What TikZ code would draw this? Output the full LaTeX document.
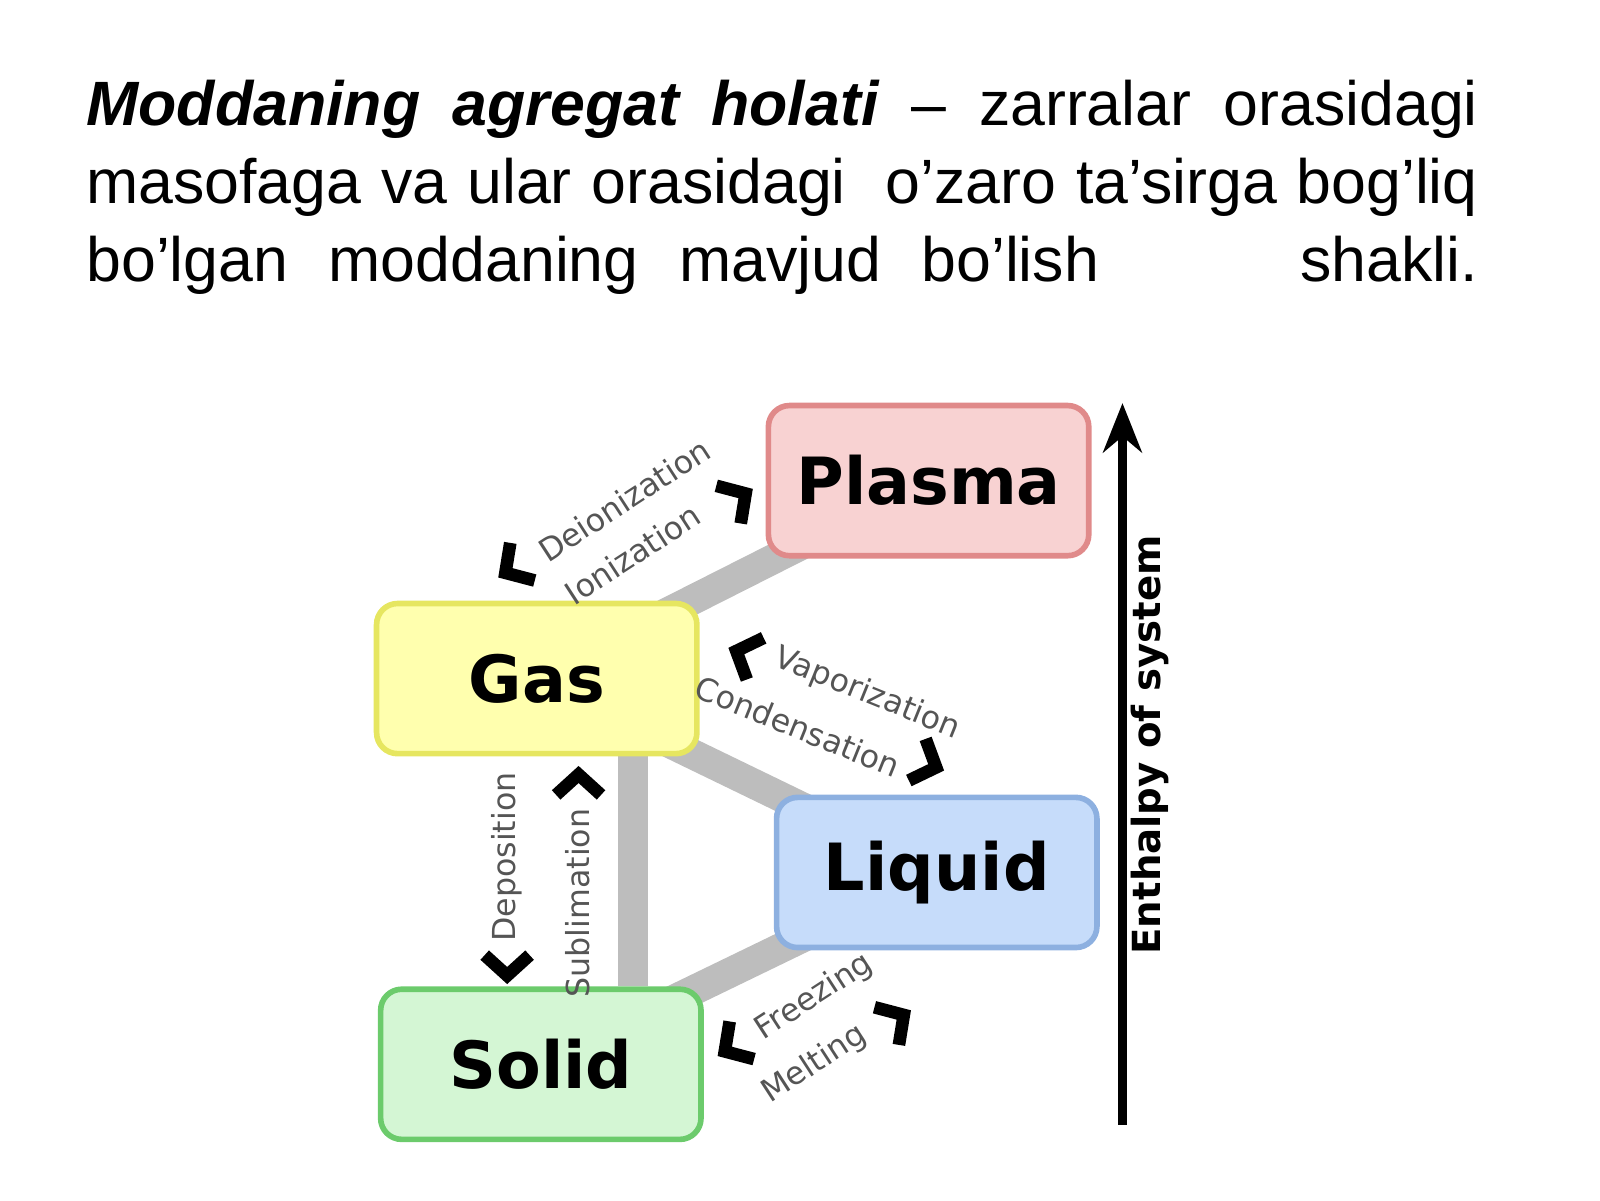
\documentclass[tikz,border=0pt]{standalone}
\usepackage{fontspec}
\setmainfont{Liberation Sans}
\newfontfamily\dejavu{DejaVu Sans}
\usetikzlibrary{backgrounds,arrows.meta,calc}
\definecolor{plasmafill}{HTML}{F8D2D2}\definecolor{plasmaline}{HTML}{E08A8A}
\definecolor{gasfill}{HTML}{FFFFAE}\definecolor{gasline}{HTML}{E6E660}
\definecolor{liquidfill}{HTML}{C6DCFA}\definecolor{liquidline}{HTML}{8DB0E0}
\definecolor{solidfill}{HTML}{D4F6D4}\definecolor{solidline}{HTML}{6CCB6C}
\definecolor{bargray}{HTML}{BDBDBD}\definecolor{labelgray}{HTML}{555555}
\tikzset{
  state/.style = {draw=#1line,fill=#1fill,line width=1.6pt,rounded corners=6pt,
    minimum width=3.2cm,minimum height=1.5cm,font=\dejavu\bfseries\fontsize{18.5}{20}\selectfont},
  bar/.style = {bargray,line width=0.3cm},
  change/.style = {labelgray,font=\dejavu\fontsize{9}{10}\selectfont,inner sep=1pt},
  chev/.pic = {\draw[line width=3.6pt,miter limit=10] (-12,-22) -- (8,0) -- (-12,22);}
}
\newcommand{\spreadline}[1]{\makebox[13.9cm][s]{#1}}
\begin{document}
\begin{tikzpicture}[x=0.0102cm,y=0.0102cm]
  \useasboundingbox (0,0) rectangle (1568,1176);

  \node[anchor=north west,inner sep=0pt,align=left,
        font=\fontsize{17.8}{22.2}\selectfont] (def) at (84,1098)
    {\spreadline{\textbf{\textit{Moddaning agregat holati}} -- zarralar orasidagi}\\
     \spreadline{masofaga va ular orasidagi \ o’zaro ta’sirga bog’liq}\\
     \spreadline{bo’lgan moddaning mavjud bo’lish \hspace{1.2cm} shakli.}};

  \node[state=plasma] (plasma) at (910,705) {Plasma};
  \node[state=gas]    (gas)    at (526,511) {Gas};
  \node[state=liquid] (liquid) at (918,321) {Liquid};
  \node[state=solid]  (solid)  at (530,133) {Solid};

  \begin{scope}[on background layer]
    \draw[bar] (gas.center) -- (plasma.center);
    \draw[bar] (gas.center) -- (liquid.center);
    \draw[bar] (liquid.center) -- (solid.center);
    \draw[bar] ($(gas.south)+(94,0)$) -- ($(solid.north)+(90,0)$);
  \end{scope}

  % transitions
  \node[change,rotate=33]  (deion) at (612,686) {Deionization};
  \node[change,rotate=33]  (ion)   at (620,633) {Ionization};
  \node[change,rotate=-22] (vap)   at (850,496) {Vaporization};
  \node[change,rotate=-22] (cond)  at (782,464) {Condensation};
  \node[change,rotate=90]  (dep)   at (497,336) {Deposition};
  \node[change,rotate=90]  (sub)   at (566,291) {Sublimation};
  \node[change,rotate=33]  (freez) at (798,199) {Freezing};
  \node[change,rotate=33]  (melt)  at (798,133) {Melting};

  \pic[rotate=213] at (502,619) {chev};
  \pic[rotate=33]  at (724,688) {chev};
  \pic[rotate=158] at (729,535) {chev};
  \pic[rotate=-22] at (910,427) {chev};
  \pic[rotate=-90] at (497,228) {chev};
  \pic[rotate=90]  at (567,409) {chev};
  \pic[rotate=213] at (717,150) {chev};
  \pic[rotate=33]  at (879,177) {chev};

  % enthalpy axis
  \coordinate (axbot) at (1100,74);
  \coordinate (axtop) at (1100,781);
  \draw[line width=2.4pt,-{Stealth[length=14pt,width=11pt]}] (axbot) -- (axtop);
  \node[rotate=90,font=\dejavu\bfseries\fontsize{11}{12}\selectfont] (enth) at (1127,446) {Enthalpy of system};
\end{tikzpicture}
\end{document}
